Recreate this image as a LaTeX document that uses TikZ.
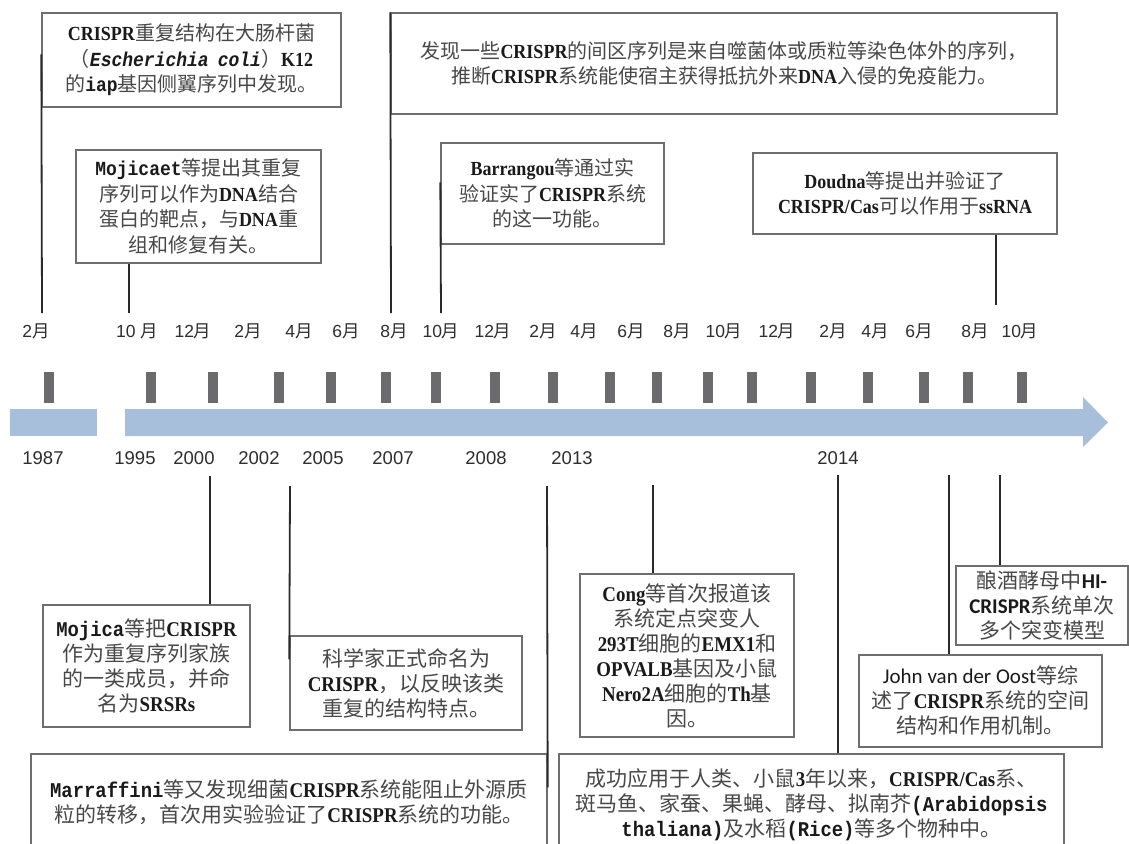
\documentclass[tikz,border=0pt]{standalone}
\usepackage{fontspec}
\setmainfont{Noto Sans CJK SC}
\newfontfamily\latf{Liberation Serif}[FakeStretch=0.9]
\newfontfamily\monf{Liberation Mono}[FakeStretch=0.9]
\newfontfamily\calf{Carlito}
\newfontfamily\arf{Liberation Sans}
\definecolor{cjkc}{HTML}{484848}
\definecolor{latc}{HTML}{1A1A1A}
\definecolor{boxc}{HTML}{6E6E6E}
\definecolor{linec}{HTML}{2A2A2A}
\definecolor{bandc}{HTML}{A8BFDB}
\definecolor{barc}{HTML}{6B6B6E}
\definecolor{labc}{HTML}{2E2E2E}
\newcommand\Lt[1]{{\latf\bfseries\color{latc}#1}}
\newcommand\Mn[1]{{\monf\bfseries\color{latc}#1}}
\newcommand\Mi[1]{{\monf\bfseries\itshape\color{latc}#1}}
\newcommand\Cb[1]{{\calf\bfseries\color{latc}#1}}
\newcommand\Cr[1]{{\calf\color{latc}#1}}
\begin{document}
\begin{tikzpicture}[x=1pt,y=-1pt,
  box/.style={draw=boxc,line width=1.4pt,inner sep=0pt,align=center,text=cjkc,font=\fontsize{20}{25.5}\selectfont},
  bbox/.style={box,font=\fontsize{21}{25}\selectfont},
  conn/.style={draw=linec,line width=1.8pt},
  monl/.style={font=\fontsize{17.5}{20}\selectfont,text=labc,inner sep=0pt},
  yrl/.style={font=\arf\fontsize{18.5}{20}\selectfont,text=labc,inner sep=0pt}]
\fill[white] (0,0) rectangle (1129,843);
\useasboundingbox (0,0) rectangle (1129,843);

% timeline band
\fill[bandc] (10,409) rectangle (97,436);
\fill[bandc] (125,409) -- (1083,409) -- (1083,397) -- (1108,422.5) -- (1083,447) -- (1083,436) -- (125,436) -- cycle;
\foreach \x in {49,151,213,279,331,386,436,495,553,610,657,708,752,811,868,924,968,1022}
  \fill[barc] (\x-5,372) rectangle (\x+5,403);

% month labels
\foreach \x/\d [count=\i] in {36/2,137/{10\ },193/12,248/2,299/4,346/6,394/8,441/10,493/12,543/2,584/4,631/6,677/8,724/10,777/12,833/2,875/4,919/6,975/8,1020/10}
  \node[monl] (m\i) at (\x,331) {{\arf\d}月};
% year labels
\foreach \x/\t [count=\i] in {43/1987,135/1995,194/2000,259/2002,323/2005,393/2007,486/2008,572/2013,838/2014}
  \node[yrl] (y\i) at (\x,458) {\t};

% top boxes
\node[box,minimum width=299pt,minimum height=94pt] (b1) at (191.5,60)
  {\Lt{CRISPR}重复结构在大肠杆菌\\（\Mi{Escherichia\hspace{9pt}coli}）\Lt{K12}\\的\Mn{iap}基因侧翼序列中发现。};
\node[box,minimum width=245pt,minimum height=113pt] (b2) at (198.5,206.5)
  {\Mn{Mojicaet}等提出其重复\\序列可以作为\Lt{DNA}结合\\蛋白的靶点，与\Lt{DNA}重\\组和修复有关。};
\node[box,minimum width=666pt,minimum height=101pt] (b3) at (724,63.5)
  {发现一些\Lt{CRISPR}的间区序列是来自噬菌体或质粒等染色体外的序列，\\推断\Lt{CRISPR}系统能使宿主获得抵抗外来\Lt{DNA}入侵的免疫能力。};
\node[box,minimum width=223pt,minimum height=101pt] (b4) at (552.5,193.5)
  {\Lt{Barrangou}等通过实\\验证实了\Lt{CRISPR}系统\\的这一功能。};
\node[box,minimum width=304pt,minimum height=81pt] (b5) at (905,193.5)
  {\Lt{Doudna}等提出并验证了\\\Lt{CRISPR/Cas}可以作用于\Lt{ssRNA}};

% bottom boxes
\node[bbox,minimum width=207pt,minimum height=122pt] (bm) at (146.5,666)
  {\Mn{Mojica}等把\Lt{CRISPR}\\作为重复序列家族\\的一类成员，并命\\名为\Lt{SRSRs}};
\node[bbox,minimum width=232pt,minimum height=94pt] (bk) at (406,683)
  {科学家正式命名为\\\Lt{CRISPR}，以反映该类\\重复的结构特点。};
\node[bbox,minimum width=516pt,minimum height=96pt] (bmar) at (289,802)
  {\Mn{Marraffini}等又发现细菌\Lt{CRISPR}系统能阻止外源质\\粒的转移，首次用实验验证了\Lt{CRISPR}系统的功能。};
\node[bbox,minimum width=214pt,minimum height=163pt] (bc) at (687,655.5)
  {\Lt{Cong}等首次报道该\\系统定点突变人\\\Lt{293T}细胞的\Lt{EMX1}和\\\Lt{OPVALB}基因及小鼠\\\Lt{Nero2A}细胞的\Lt{Th}基\\因。};
\node[bbox,minimum width=172pt,minimum height=79pt] (bh) at (1042,605.5)
  {酿酒酵母中\Cb{HI-}\\\Cb{CRISPR}系统单次\\多个突变模型};
\node[bbox,minimum width=243pt,minimum height=92pt] (bj) at (980.5,701)
  {\Cr{John van der Oost}等综\\述了\Lt{CRISPR}系统的空间\\结构和作用机制。};
\node[bbox,minimum width=505pt,minimum height=102pt] (bb) at (811.5,805)
  {成功应用于人类、小鼠\Lt{3}年以来，\Lt{CRISPR/Cas}系、\\斑马鱼、家蚕、果蝇、酵母、拟南芥\Mn{(Arabidopsis}\\\Mn{thaliana)}及水稻\Mn{(Rice)}等多个物种中。};

% connector ends
\coordinate (t1) at (42,313);
\coordinate (t2) at (129,313);
\coordinate (t3) at (391,313);
\coordinate (t4) at (441,313);
\coordinate (t5) at (996,305);
\coordinate (s6) at (210,476);
\coordinate (s7) at (290,486);
\coordinate (s8) at (547,486);
\coordinate (s9) at (653,485);
\coordinate (s10) at (838,475);
\coordinate (s11) at (949,475);
\coordinate (s12) at (1000,475);

% top connectors
\draw[conn] ([yshift=-42pt]b1.north west) -- (t1);
\draw[conn] (t2 |- b2.south) -- (t2);
\draw[conn] (b3.north west) -- (t3);
\draw[conn] ([yshift=-40pt]b4.north west) -- (t4);
\draw[conn] (t5 |- b5.south) -- (t5);
% bottom connectors
\draw[conn] (s6) -- (s6 |- bm.north);
\draw[conn] (s7) -- ([yshift=-24pt]bk.north west);
\draw[conn] (s8) -- ([yshift=-34pt]bmar.north east);
\draw[conn] (s9) -- (s9 |- bc.north);
\draw[conn] (s10) -- (s10 |- bb.north);
\draw[conn] (s11) -- (s11 |- bj.north);
\draw[conn] (s12) -- (s12 |- bh.north);
\end{tikzpicture}
\end{document}
